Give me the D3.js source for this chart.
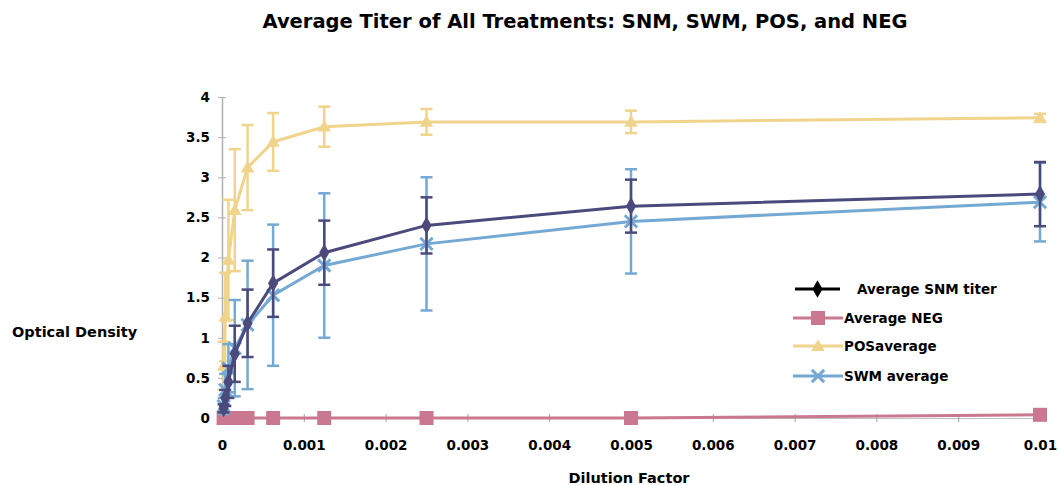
<!DOCTYPE html>
<html><head><meta charset="utf-8">
<script src="https://cdn.jsdelivr.net/npm/d3@7/dist/d3.min.js"></script>
<style>
body{margin:0;background:#fff;}
text{font-family:"DejaVu Sans",Arial,sans-serif;font-weight:bold;fill:#000;}
</style></head><body>
<svg id="c" width="1058" height="485"></svg>
<script>
const dilution = [0.01, 0.005, 0.0025, 0.00125, 0.000625, 0.0003125, 0.00015625, 0.000078125, 0.0000390625, 0.00001953125];
const snmValues = [2.79, 2.64, 2.40, 2.06, 1.68, 1.18, 0.80, 0.45, 0.25, 0.12];
const snmErrors = [0.40, 0.33, 0.35, 0.40, 0.42, 0.42, 0.35, 0.20, 0.10, 0.05];
const negValues = [0.04, 0.0, 0.0, 0.0, 0.0, 0.0, 0.0, 0.0, 0.0, 0.0];
const posValues = [3.74, 3.69, 3.69, 3.63, 3.44, 3.12, 2.59, 1.97, 1.26, 0.65];
const posErrors = [0.05, 0.14, 0.16, 0.25, 0.36, 0.53, 0.76, 0.75, 0.55, 0.30];
const swmValues = [2.69, 2.45, 2.17, 1.90, 1.53, 1.16, 0.87, 0.62, 0.35, 0.15];
const swmErrors = [0.49, 0.65, 0.83, 0.90, 0.88, 0.80, 0.60, 0.30, 0.20, 0.10];
const xTicks = [0, 0.001, 0.002, 0.003, 0.004, 0.005, 0.006, 0.007, 0.008, 0.009, 0.01];
const xTickLabels = ["0", "0.001", "0.002", "0.003", "0.004", "0.005", "0.006", "0.007", "0.008", "0.009", "0.01"];
const yTicks = [0, 0.5, 1, 1.5, 2, 2.5, 3, 3.5, 4];
const yTickLabels = ["0", "0.5", "1", "1.5", "2", "2.5", "3", "3.5", "4"];
const seriesNames = ["Average SNM titer", "Average NEG", "POSaverage", "SWM average"];

const svg = d3.select("#c");
const x = d3.scaleLinear().domain([0, 0.01]).range([222, 1040]);
const y = d3.scaleLinear().domain([0, 4]).range([418, 97]);

const series = [
  {name: seriesNames[0], vals: snmValues, errs: snmErrors, color: "#4b4a7c", marker: "diamond", order: 3},
  {name: seriesNames[1], vals: negValues, errs: null, color: "#c9788f", marker: "square", order: 0},
  {name: seriesNames[2], vals: posValues, errs: posErrors, color: "#f0d48c", marker: "triangle", order: 1},
  {name: seriesNames[3], vals: swmValues, errs: swmErrors, color: "#74a9d3", marker: "x", order: 2}
];

const FF = "DejaVu Sans, Arial, sans-serif";
// title
svg.append("text").attr("x", 585).attr("y", 28).attr("text-anchor", "middle")
  .style("font-size", "19.5px").text("Average Titer of All Treatments: SNM, SWM, POS, and NEG");
svg.append("text").attr("x", 12).attr("y", 337).style("font-size", "14.5px").text("Optical Density");
svg.append("text").attr("x", 629).attr("y", 483).attr("text-anchor", "middle").style("font-size", "14.5px").text("Dilution Factor");

// axes
const yAxis = d3.axisLeft(y).tickValues(yTicks).tickFormat((d, i) => yTickLabels[i]).tickSizeInner(4).tickSizeOuter(0).tickPadding(8);
const gy = svg.append("g").attr("transform", "translate(222,0)").call(yAxis);
gy.select(".domain").attr("stroke", "#b0b0b0").attr("stroke-width", 1.5);
gy.selectAll(".tick line").attr("stroke", "#b0b0b0").attr("x2", 4).attr("x1", -4);
gy.selectAll("text").style("font-size", "13.5px").style("font-family", FF).style("font-weight", "bold");

const xAxis = d3.axisBottom(x).tickValues(xTicks).tickFormat((d, i) => xTickLabels[i]).tickSizeInner(4).tickSizeOuter(0).tickPadding(18);
const gx = svg.append("g").attr("transform", "translate(0,418)").call(xAxis);
gx.select(".domain").attr("stroke", "#c0c0c0");
gx.selectAll(".tick line").attr("stroke", "#a0a0a0").attr("y1", -4).attr("y2", 4);
gx.selectAll("text").style("font-size", "13.5px").style("font-family", FF).style("font-weight", "bold");

function drawMarker(g, type, cx, cy, color) {
  if (type === "diamond") {
    g.append("path").attr("d", d3.symbol(d3.symbolDiamond, 90)()).attr("transform", `translate(${cx},${cy})`).attr("fill", color);
  } else if (type === "square") {
    g.append("rect").attr("x", cx - 7).attr("y", cy - 7).attr("width", 14).attr("height", 14).attr("fill", color);
  } else if (type === "triangle") {
    g.append("path").attr("d", d3.symbol(d3.symbolTriangle, 80)()).attr("transform", `translate(${cx},${cy + 1})`).attr("fill", color);
  } else {
    g.append("path").attr("d", d3.symbol(d3.symbolX, 100)()).attr("transform", `translate(${cx},${cy})`)
      .attr("stroke", color).attr("stroke-width", 3).attr("fill", "none");
  }
}

const drawOrder = series.slice().sort((a, b) => a.order - b.order);
drawOrder.forEach(s => {
  const g = svg.append("g");
  const pts = dilution.map((d, i) => ({x: d, y: s.vals[i], e: s.errs ? s.errs[i] : 0}));
  if (s.errs) {
    pts.forEach(p => {
      const x0 = x(p.x), yt = y(p.y + p.e), yb = y(p.y - p.e);
      g.append("line").attr("x1", x0).attr("x2", x0).attr("y1", yt).attr("y2", yb).attr("stroke", s.color).attr("stroke-width", 2.5);
      g.append("line").attr("x1", x0 - 6).attr("x2", x0 + 6).attr("y1", yt).attr("y2", yt).attr("stroke", s.color).attr("stroke-width", 2.5);
      g.append("line").attr("x1", x0 - 6).attr("x2", x0 + 6).attr("y1", yb).attr("y2", yb).attr("stroke", s.color).attr("stroke-width", 2.5);
    });
  }
  const line = d3.line().x(p => x(p.x)).y(p => y(p.y));
  g.append("path").datum(pts).attr("d", line).attr("fill", "none").attr("stroke", s.color).attr("stroke-width", 3);
  pts.forEach(p => drawMarker(g, s.marker, x(p.x), y(p.y), s.color));
});

// legend
const legY = [289, 318, 346, 376];
series.forEach((s, i) => {
  const g = svg.append("g");
  const col = i === 0 ? "#000" : s.color;
  const x1 = i === 0 ? 795 : 793, x2 = i === 0 ? 840 : 843;
  g.append("line").attr("x1", x1).attr("x2", x2).attr("y1", legY[i]).attr("y2", legY[i]).attr("stroke", col).attr("stroke-width", 3);
  drawMarker(g, s.marker, (x1 + x2) / 2, legY[i], col);
  g.append("text").attr("x", i === 0 ? 857 : 844).attr("y", legY[i] + 5).style("font-size", "13.5px").text(s.name);
});
</script></body></html>
